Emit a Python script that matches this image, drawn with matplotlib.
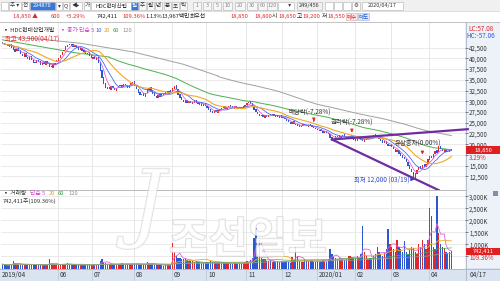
import numpy as np
import pandas as pd
import matplotlib
matplotlib.use('Agg')
import matplotlib.pyplot as plt
from matplotlib import patheffects as pe
from matplotlib.patches import Rectangle

plt.rcParams['font.family'] = ['Noto Sans CJK KR', 'DejaVu Sans']

# 일봉 종가 / 시가 (2019/04/17 ~ 2020/04/17, 249일)
closes = [
    43500, 43200, 43000, 42800, 43300, 42500, 42000, 41500, 42200, 41800,
    41000, 40500, 41200, 40300, 39800, 40500, 39500, 39000, 38800, 39600,
    39200, 38500, 39000, 38600, 39300, 38700, 38000, 37900, 38600, 39000,
    39500, 40000, 40800, 41500, 42000, 42800, 43200, 43000, 43300, 42700,
    43100, 42500, 42000, 42400, 41800, 41500, 41000, 41300, 40600, 40000,
    40400, 39800, 40200, 39000, 37000, 35500, 34000, 33000, 33300, 32800,
    33500, 33000, 32600, 33200, 33600, 33800, 33400, 34000, 33700, 33200,
    33900, 34300, 34500, 33500, 32800, 32000, 31500, 31800, 31200, 32000,
    32800, 33200, 32500, 31800, 31200, 30800, 31500, 31000, 31600, 31800,
    32200, 31900, 32500, 32000, 33000, 33600, 32800, 31500, 30800, 30200,
    29800, 30300, 29600, 30000, 29500, 29800, 30200, 29700, 29300, 29600,
    29000, 29400, 28900, 28500, 28000, 27600, 27300, 27800, 27400, 27900,
    28200, 28500, 28800, 28300, 28600, 29000, 28700, 28400, 28900, 28500,
    28200, 28600, 28400, 28800, 29200, 29700, 29900, 29400, 28800, 28000,
    27500, 27000, 26600, 26800, 26300, 26700, 26400, 26900, 26800, 27000,
    26500, 26700, 26300, 26600, 26200, 26000, 25800, 25500, 25100, 24800,
    25200, 24700, 24500, 24300, 24000, 24300, 24600, 24400, 24200, 24500,
    24300, 24000, 23700, 23500, 23200, 23400, 23000, 22700, 23000, 22600,
    22300, 21500, 21000, 21300, 21800, 22000, 21600, 21900, 22200, 21700,
    21400, 21800, 22000, 21900, 21000, 20800, 21200, 21500, 21000, 20700,
    21100, 21400, 21800, 21500, 21900, 22200, 22000, 21600, 21200, 20800,
    20400, 20700, 20000, 19600, 19900, 19300, 18800, 18300, 18600, 17800,
    17300, 16900, 16500, 15800, 15000, 14200, 13500, 12400, 13200, 14000,
    14800, 14300, 15200, 14700, 15500, 16500, 17200, 16800, 17800, 18500,
    18000, 19500, 19000, 18400, 18800, 18200, 18500, 18250, 18850,
]
opens = [
    43900, 43600, 43300, 43100, 42700, 43300, 42600, 42100, 41600, 42300,
    41900, 41100, 40400, 41300, 40400, 39700, 40600, 39600, 39100, 38900,
    39700, 39300, 38400, 39100, 38500, 39400, 38800, 38100, 37800, 38500,
    39100, 39400, 40000, 40700, 41600, 41900, 42700, 43400, 42900, 43400,
    42600, 43200, 42600, 41900, 42500, 41900, 41600, 40900, 41400, 40700,
    39900, 40500, 39700, 40300, 39100, 37200, 35600, 34200, 32900, 33400,
    32700, 33600, 33100, 32500, 33100, 33500, 33900, 33300, 34100, 33800,
    33100, 33800, 34200, 34600, 33600, 32900, 32100, 31400, 31900, 31100,
    31900, 32700, 33300, 32600, 31900, 31300, 30700, 31600, 30900, 31500,
    31700, 32300, 31800, 32600, 32100, 32900, 33700, 32900, 31600, 30900,
    30300, 29700, 30400, 29500, 30100, 29400, 29700, 30300, 29800, 29200,
    29700, 28900, 29500, 28900, 28600, 28100, 27700, 27200, 27900, 27300,
    27800, 28100, 28400, 28900, 28200, 28500, 29100, 28800, 28300, 29000,
    28600, 28100, 28700, 28300, 28700, 29100, 29600, 30000, 29500, 28900,
    28100, 27600, 27100, 26500, 26900, 26200, 26800, 26300, 27000, 26700,
    27100, 26400, 26800, 26200, 26700, 26300, 26100, 25900, 25600, 25200,
    24700, 25300, 24800, 24600, 24400, 23900, 24200, 24700, 24500, 24100,
    24600, 24400, 24000, 23800, 23600, 23100, 23500, 23100, 22600, 23100,
    22700, 22400, 21600, 20900, 21200, 21700, 22100, 21500, 21800, 22300,
    21800, 21300, 21700, 22100, 21900, 21100, 20700, 21100, 21600, 21100,
    20600, 21000, 21300, 21900, 21400, 21800, 22300, 22100, 21700, 21300,
    20900, 20300, 20800, 20100, 19500, 20000, 19400, 18900, 18200, 18700,
    17900, 17400, 17000, 16600, 15900, 15100, 14300, 13600, 12200, 13100,
    13900, 14900, 14200, 15300, 14600, 15400, 16400, 17300, 16700, 17700,
    18600, 18100, 19600, 18900, 18300, 18900, 18100, 18600, 18650,
]
# 거래량 (천주)
volumes = [
    180, 150, 140, 130, 160, 200, 300, 220, 170, 150,
    160, 140, 150, 170, 180, 140, 200, 160, 150, 130,
    140, 150, 130, 140, 160, 150, 380, 200, 170, 160,
    170, 160, 180, 200, 170, 190, 210, 180, 160, 150,
    140, 130, 150, 140, 160, 130, 150, 140, 130, 150,
    160, 150, 140, 200, 300, 400, 250, 220, 200, 180,
    170, 190, 160, 200, 180, 170, 220, 190, 160, 170,
    180, 200, 220, 190, 210, 180, 170, 160, 200, 180,
    260, 220, 200, 170, 160, 180, 150, 140, 130, 120,
    140, 160, 130, 150, 1080, 700, 540, 450, 420, 400,
    380, 420, 350, 330, 300, 310, 280, 300, 260, 250,
    240, 230, 250, 260, 280, 300, 270, 250, 240, 230,
    220, 210, 250, 230, 220, 240, 210, 200, 220, 210,
    200, 230, 240, 220, 250, 300, 280, 350, 450, 1290,
    1700, 600, 1200, 450, 380, 400, 320, 300, 350, 280,
    300, 260, 250, 280, 320, 270, 300, 260, 250, 240,
    480, 350, 900, 500, 300, 280, 280, 400, 320, 300,
    350, 300, 280, 260, 300, 270, 320, 350, 300, 280,
    400, 800, 600, 500, 450, 400, 420, 380, 400, 360,
    380, 500, 520, 480, 450, 420, 500, 450, 600, 1790,
    700, 500, 400, 450, 420, 500, 600, 900, 700, 600,
    500, 650, 800, 1660, 1000, 900, 800, 700, 1200, 900,
    800, 700, 1150, 700, 600, 750, 900, 850, 700, 600,
    1000, 900, 1200, 1000, 800, 1200, 2500, 2200, 900, 800,
    3000, 1460, 1000, 900, 850, 700, 650, 700, 742,
]

# 60일/120일 이평선 앞부분 (화면에서 읽은 값)
ma60_head_idx = [0, 20, 40, 59]
ma60_head_val = [44300, 42800, 41300, 40300]
ma120_head_idx = [0, 20, 43, 72, 100, 119]
ma120_head_val = [45000, 44500, 43500, 41500, 38600, 35900]

# 추세선 (일자 인덱스, 가격)
trend_upper = ([182, 257], [21100, 23500])
trend_lower = ([182, 241], [21100, 9300])

month_idx = [31, 50, 73, 94, 113, 135, 155, 174, 195, 215, 236]
month_lbl = ['06', '07', '08', '09', '10', '11', '12', '2020/01', '02', '03', '04']

price_ticks = list(range(12500, 42501, 2500))
vol_ticks = [500, 1000, 1500, 2000, 2500, 3000]
# 현재가 표시에 가려진 눈금 라벨
hidden_price = [17500]
hidden_vol = [500]

RED = '#e0282c'
BLUE = '#2b58d0'

n = len(closes)
x = np.arange(n)
c = np.array(closes, float)
o = np.array(opens, float)
up = c >= o
cols = np.where(up, RED, BLUE)

W, H = 500, 281
fig = plt.figure(figsize=(W / 100, H / 100), dpi=100)


def px_axes(x0, y0, x1, y1, z):
    return fig.add_axes([x0 / W, 1 - y1 / H, (x1 - x0) / W, (y1 - y0) / H], zorder=z)


# 배경 (우측 축 / 날짜 띠)
bg = px_axes(0, 0, W, H, 0)
bg.set_xlim(0, W)
bg.set_ylim(H, 0)
bg.axis('off')
bg.add_patch(Rectangle((465, 22), 35, 246, color='#edf1f8', lw=0))
bg.add_patch(Rectangle((0, 268), 500, 13, color='#dae4f1', lw=0))
bg.plot([465.5, 465.5], [22, 281], color='#a8b4c8', lw=0.6)
bg.plot([0, 500], [268.5, 268.5], color='#a8b4c8', lw=0.6)

XL = (-0.8, 255.5)

# ---- 가격 차트
ax = px_axes(1, 22, 465, 189.5, 1)
ax.set_facecolor('white')
ax.set_xlim(*XL)
ax.set_ylim(9460, 48450)
for m in month_idx:
    ax.axvline(m - 0.5, color='#e3e3e3', lw=0.6, zorder=0)
for t in price_ticks:
    ax.axhline(t, color='#e6e6e6', lw=0.6, zorder=0)

body = np.maximum(np.abs(c - o), 60)
ax.bar(x, body, bottom=np.minimum(o, c), width=0.72, color=cols, lw=0, zorder=3)

s = pd.Series(c)
ax.plot(x, s.rolling(5, min_periods=1).mean(), color='#e060e0', lw=0.6, zorder=4)
ax.plot(x, s.rolling(10, min_periods=1).mean(), color='#4a6cf0', lw=0.6, zorder=4)
ax.plot(x, s.rolling(20, min_periods=1).mean(), color='#f0a828', lw=0.8, zorder=4)
ax.plot(ma60_head_idx, ma60_head_val, color='#4caf50', lw=0.7, zorder=2)
ax.plot(x, s.rolling(60).mean(), color='#4caf50', lw=0.7, zorder=2)
ax.plot(ma120_head_idx, ma120_head_val, color='#a0a0a0', lw=0.7, zorder=2)
ax.plot(x, s.rolling(120).mean(), color='#a0a0a0', lw=0.7, zorder=2)

ax.plot(*trend_upper, color='#6f2da0', lw=1.6, zorder=5, clip_on=False)
ax.plot(*trend_lower, color='#6f2da0', lw=1.6, zorder=5)

ax.yaxis.tick_right()
ax.set_yticks(price_ticks)
ax.set_yticklabels(['' if t in hidden_price else f'{t:,}' for t in price_ticks])
ax.tick_params(axis='y', length=2, width=0.5, pad=1, labelsize=4.4,
               colors='#555555', labelcolor='#333333')
ax.set_xticks([])
for sp in ax.spines.values():
    sp.set_visible(False)

ann_kw = dict(fontsize=4.6, color='#333333', ha='center', va='center', zorder=6)
ax.text(170, 27440, '배당락(-7.28%)', **ann_kw)
ax.text(193, 25100, '권리락(-7.28%)', **ann_kw)
ax.text(229.5, 20200, '유상증자(0.00%)', **ann_kw)
arr = dict(arrowstyle='-|>', color=RED, lw=0.8, mutation_scale=4)
ax.annotate('', xy=(172, 24640), xytext=(172, 26100), arrowprops=arr, zorder=6)
ax.annotate('', xy=(193, 22070), xytext=(193, 23700), arrowprops=arr, zorder=6)
ax.annotate('', xy=(232, 16930), xytext=(232, 19030), arrowprops=arr, zorder=6)
ax.text(225, 11800, '최저 12,000 (03/19)', fontsize=4.6, color='#2a46c8',
        ha='right', va='center', zorder=6)
ax.annotate('', xy=(227.5, 11800), xytext=(225.3, 11800),
            arrowprops=dict(arrowstyle='-|>', color='#2a46c8', lw=0.8,
                            mutation_scale=4), zorder=6)
ax.text(1.4, 44480, '최고 43,900(04/17)', fontsize=4.6, color=RED,
        ha='left', va='center', zorder=6)

# ---- 거래량 차트
av = px_axes(1, 190, 465, 268.5, 1)
av.set_facecolor('white')
av.set_xlim(*XL)
for m in month_idx:
    av.axvline(m - 0.5, color='#e3e3e3', lw=0.6, zorder=0)
for t in vol_ticks:
    av.axhline(t, color='#e6e6e6', lw=0.6, zorder=0)
v = np.array(volumes, float)
av.bar(x, v, width=0.72, color=cols, lw=0, zorder=3)
vs = pd.Series(v)
av.plot(x, vs.rolling(5, min_periods=1).mean(), color='#e060e0', lw=0.6, zorder=4)
av.plot(x, vs.rolling(20, min_periods=1).mean(), color='#f0a828', lw=0.6, zorder=4)
av.plot(x, vs.rolling(60, min_periods=1).mean(), color='#4caf50', lw=0.5, zorder=4)
av.plot(x, vs.rolling(120, min_periods=1).mean(), color='#a0a0a0', lw=0.5, zorder=4)
av.plot(*trend_lower, color='#6f2da0', lw=1.6, zorder=5)
av.set_ylim(0, 3270)
av.yaxis.tick_right()
av.set_yticks(vol_ticks)
av.set_yticklabels(['' if t in hidden_vol else f'{t:,}K' for t in vol_ticks])
av.tick_params(axis='y', length=2, width=0.5, pad=1, labelsize=4.4,
               colors='#555555', labelcolor='#333333')
av.set_xticks([])
for sp in av.spines.values():
    sp.set_visible(False)

# 가격 차트 하단 경계선
bg2 = px_axes(0, 0, W, H, 2)
bg2.set_xlim(0, W)
bg2.set_ylim(H, 0)
bg2.axis('off')
bg2.patch.set_alpha(0)
bg2.plot([0, 465], [189.7, 189.7], color='#b0b0b0', lw=0.6)

# 날짜 라벨
dkw = dict(fontsize=4.6, color='#333333', va='center', ha='left')
bg2.text(2, 275, '2019/04', **dkw)
for m, lbl in zip(month_idx, month_lbl):
    xp = 1 + (m - 0.5 - XL[0]) / (XL[1] - XL[0]) * 464
    bg2.plot([xp, xp], [268.5, 281], color='#b8c4d6', lw=0.5)
    bg2.text(xp + 2, 275, lbl, **dkw)
bg2.text(470, 275, '04/17', **dkw)

# 우측 표시
bg2.text(468, 29, 'LC:57.08', fontsize=4.6, color=RED, va='center', ha='left')
bg2.text(466, 36, 'HC:-57.06', fontsize=4.6, color='#2a5bd8', va='center', ha='left')
bg2.add_patch(Rectangle((466, 146.3), 34, 7.5, color='#e02020', lw=0))
bg2.text(483, 150.2, '18,850', fontsize=4.2, color='white', va='center', ha='center')
bg2.text(469, 158, '3.29%', fontsize=4.4, color=RED, va='center', ha='left')
bg2.add_patch(Rectangle((466, 247.5), 34, 7.5, color='#e02020', lw=0))
bg2.text(483, 251.3, '742,411', fontsize=4.2, color='white', va='center', ha='center')
bg2.text(469, 258.5, '109.36%', fontsize=4.4, color=RED, va='center', ha='left')
bg2.add_patch(Rectangle((493, 191), 5, 5, fc='#8090a8', ec='none'))

# 범례
lkw = dict(fontsize=4.2, va='center', ha='left')
bg2.text(3, 30, '▪ HDC현대산업개발', color='#333333', **lkw)
bg2.text(60, 30, '▪ 종가 단순 5', color='#d040d0', **lkw)
bg2.text(95, 30, '10', color='#3a5ce8', **lkw)
bg2.text(104, 30, '20', color='#e8a020', **lkw)
bg2.text(113, 30, '60', color='#3a9a40', **lkw)
bg2.text(122, 30, '120', color='#909090', **lkw)
bg2.text(3, 193.5, '▪ 거래량', color='#333333', **lkw)
bg2.text(30, 193.5, '단순 5', color='#d040d0', **lkw)
bg2.text(49, 193.5, '20', color='#e8a020', **lkw)
bg2.text(58, 193.5, '60', color='#3a9a40', **lkw)
bg2.text(68, 193.5, '120', color='#909090', **lkw)
bg2.text(3, 201.5, '742,411주(109.36%)', color='#333333', **lkw)

# 워터마크
wm = [pe.withStroke(linewidth=1.0, foreground='#c4c4c4')]
bg2.text(248, 240, '조선일보', fontsize=31, color='white', alpha=0.6,
         ha='center', va='center', fontweight='bold', path_effects=wm)
bg2.text(148, 208, 'J', fontsize=62, color='white', alpha=0.55, ha='center',
         va='center', style='italic', family=['DejaVu Serif'], path_effects=wm)

# ---- 상단 툴바
bg2.add_patch(Rectangle((0, 0), 500, 11, color='#f0f0f0', lw=0))
bg2.add_patch(Rectangle((0, 11), 500, 11, color='white', lw=0))
bg2.plot([0, 500], [11, 11], color='#d0d0d0', lw=0.5)
bg2.plot([0, 500], [21.7, 21.7], color='#b8b8b8', lw=0.6)

tb_boxes = [(1, 8, '', '#333333', 'white'), (9, 21, '주 ▾', '#333333', 'white'),
            (22, 29, '전', '#333333', 'white'), (30, 55, '294870', 'white', '#3a78d8'),
            (56, 62, '▾', '#333333', 'white'), (63, 69, 'Q', '#333333', 'white'),
            (70, 82, '◀▸', '#333333', 'white'), (84, 90, '가', '#333333', 'white'),
            (91, 131, 'HDC현대산업', '#333333', 'white'), (131, 138, '일', 'white', '#3a78d8'),
            (139, 146, '주', '#333333', '#f7f7f7'), (147, 154, '월', '#333333', '#f7f7f7'),
            (155, 162, '년', '#333333', '#f7f7f7'), (164, 171, '분', '#333333', '#f7f7f7'),
            (172, 179, '초', '#333333', '#f7f7f7'), (180, 187, '틱', '#333333', '#f7f7f7'),
            (193, 201, '1', '#888888', '#f7f7f7'), (203, 211, '3', '#888888', '#f7f7f7'),
            (213, 221, '5', '#888888', '#f7f7f7'), (223, 232, '10', '#888888', '#f7f7f7'),
            (235, 245, '20', '#888888', '#f7f7f7'), (247, 257, '30', '#888888', '#f7f7f7'),
            (258, 267, '60', '#888888', '#f7f7f7'), (267, 277, '120', '#888888', '#f7f7f7'),
            (278, 294, '     ▾', '#333333', 'white'), (297, 322, '249/456', '#333333', '#f0f0f0'),
            (325, 333, '', '#333333', 'white'), (334, 342, '', '#333333', 'white'),
            (343, 351, '', '#333333', 'white'), (352, 360, '⚙', '#333333', 'white'),
            (362, 403, '2020/04/17', '#333333', 'white')]
for x0, x1, lbl, fg, bgc in tb_boxes:
    bg2.add_patch(Rectangle((x0, 1.5), x1 - x0, 8, fc=bgc, ec='#b0b0b0', lw=0.4))
    if lbl:
        bg2.text((x0 + x1) / 2, 5.6, lbl, fontsize=4.0, color=fg, ha='center', va='center')

quote = [(13, '18,850 ▲', RED), (51, '600', RED), (66, '+3.29%', RED),
         (97, '742,411', '#222222'), (122, '109.36%', RED), (145, '1.13%', '#222222'),
         (161, '13,967백만', '#222222'), (189.5, '최우선', '#222222'),
         (230, '18,850', RED), (254, '18,800', RED), (271.5, '시', '#222222'),
         (278, '18,650', RED), (296.5, '고', '#222222'), (302, '19,200', RED),
         (321.5, '저', '#222222'), (327, '18,550', RED)]
for xp, lbl, col in quote:
    bg2.text(xp, 16.3, lbl, fontsize=4.2, color=col, ha='left', va='center')
bg2.add_patch(Rectangle((346, 12.5), 11, 7.5, fc='#fbe3e6', ec='#e0a0a8', lw=0.4))
bg2.text(351.5, 16.3, '매수', fontsize=4.0, color=RED, ha='center', va='center')
bg2.add_patch(Rectangle((358, 12.5), 11, 7.5, fc='#dfe8f8', ec='#a0b4d8', lw=0.4))
bg2.text(363.5, 16.3, '매도', fontsize=4.0, color='#2a5bd8', ha='center', va='center')

fig.savefig('out.png', dpi=100)
